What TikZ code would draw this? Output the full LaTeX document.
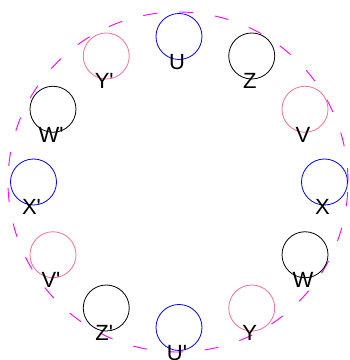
\documentclass[tikz,border=0pt]{standalone}
\usepackage{fontspec}
\setmainfont{Liberation Sans}
\usepackage{xcolor}
\usepackage{tikz}
\usetikzlibrary{positioning}
\definecolor{RingMagenta}{HTML}{FF00FF}
\definecolor{SlotPink}{HTML}{FF6E96}
\definecolor{SlotBlue}{HTML}{0000FF}
\newcommand{\primemark}{\textquotesingle}

\begin{document}
\begin{tikzpicture}[x=1pt, y=1pt,
  slot/.style={draw, circle, minimum size=46pt, inner sep=0pt, line width=0.8pt},
  slotlabel/.style={inner sep=0pt, font=\fontsize{22}{26}\selectfont, xshift=-2pt, yshift=-2pt}]
\useasboundingbox (0,0) rectangle (350,360);
\draw[RingMagenta, line width=0.9pt, dash pattern=on 14pt off 22pt] (178,178) circle (170);
\begin{scope}[shift={(179,178)}]
\node[slot, SlotBlue] (U1) at (90:145.5) {};
\node[slot, black] (Z1) at (60:145.5) {};
\node[slot, SlotPink] (V1) at (30:145.5) {};
\node[slot, SlotBlue] (X1) at (0:145.5) {};
\node[slot, black] (W1) at (-30:145.5) {};
\node[slot, SlotPink] (Y1) at (-60:145.5) {};
\node[slot, SlotBlue] (U2) at (-90:145.5) {};
\node[slot, black] (Z2) at (-120:145.5) {};
\node[slot, SlotPink] (V2) at (-150:145.5) {};
\node[slot, SlotBlue] (X2) at (180:145.5) {};
\node[slot, black] (W2) at (150:145.5) {};
\node[slot, SlotPink] (Y2) at (120:145.5) {};
\end{scope}
\node[slotlabel] (U1text) at (U1.south) {U};
\node[slotlabel] (Z1text) at (Z1.south) {Z};
\node[slotlabel] (V1text) at (V1.south) {V};
\node[slotlabel] (X1text) at (X1.south) {X};
\node[slotlabel] (W1text) at (W1.south) {W};
\node[slotlabel] (Y1text) at (Y1.south) {Y};
\node[slotlabel] (U2text) at (U2.south) {U\primemark};
\node[slotlabel] (Z2text) at (Z2.south) {Z\primemark};
\node[slotlabel] (V2text) at (V2.south) {V\primemark};
\node[slotlabel] (X2text) at (X2.south) {X\primemark};
\node[slotlabel] (W2text) at (W2.south) {W\primemark};
\node[slotlabel] (Y2text) at (Y2.south) {Y\primemark};
\end{tikzpicture}
\end{document}
